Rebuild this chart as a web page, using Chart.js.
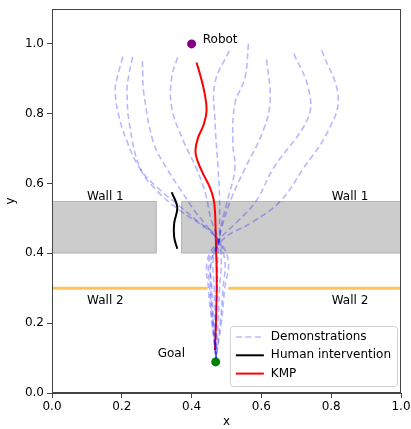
<!DOCTYPE html>
<html>
<head>
<meta charset="utf-8">
<script src="https://cdn.jsdelivr.net/npm/chart.js@4.4.1/dist/chart.umd.min.js"></script>
<style>
  html, body { margin: 0; padding: 0; background: #fff; }
  #wrap { width: 411px; height: 429px; }
</style>
</head>
<body>
<div id="wrap"><canvas id="robotChart"></canvas></div>
<script>
// Tick labels
const xTicks = [0, 0.2, 0.4, 0.6, 0.8, 1.0];
const yTicks = [0, 0.2, 0.4, 0.6, 0.8, 1.0];

// Demonstration trajectories (one x list and one y list per demo)
const demoX = [
    [0.203, 0.186, 0.181, 0.190, 0.214, 0.252, 0.300, 0.360, 0.420, 0.470, 0.495, 0.490, 0.482, 0.470],
    [0.231, 0.220, 0.215, 0.222, 0.253, 0.300, 0.370, 0.430, 0.475, 0.505, 0.495, 0.485, 0.470],
    [0.259, 0.260, 0.262, 0.290, 0.329, 0.370, 0.410, 0.450, 0.478, 0.485, 0.480, 0.476, 0.470],
    [0.360, 0.343, 0.343, 0.376, 0.414, 0.440, 0.455, 0.475, 0.475, 0.473, 0.471, 0.470],
    [0.508, 0.467, 0.467, 0.476, 0.480, 0.480, 0.478, 0.455, 0.458, 0.463, 0.470],
    [0.563, 0.553, 0.524, 0.518, 0.524, 0.505, 0.485, 0.478, 0.462, 0.465, 0.467, 0.470],
    [0.615, 0.625, 0.605, 0.553, 0.515, 0.485, 0.475, 0.450, 0.452, 0.460, 0.470],
    [0.693, 0.734, 0.734, 0.634, 0.585, 0.530, 0.480, 0.445, 0.448, 0.458, 0.470],
    [0.773, 0.820, 0.787, 0.720, 0.655, 0.575, 0.490, 0.458, 0.455, 0.462, 0.470]
];
const demoY = [
    [0.963, 0.900, 0.866, 0.800, 0.723, 0.643, 0.590, 0.540, 0.490, 0.450, 0.380, 0.300, 0.200, 0.100],
    [0.963, 0.910, 0.866, 0.770, 0.643, 0.580, 0.520, 0.480, 0.440, 0.380, 0.300, 0.200, 0.100],
    [0.951, 0.910, 0.866, 0.720, 0.643, 0.580, 0.520, 0.470, 0.430, 0.380, 0.300, 0.200, 0.100],
    [0.961, 0.904, 0.818, 0.723, 0.643, 0.570, 0.500, 0.440, 0.380, 0.300, 0.200, 0.100],
    [0.980, 0.889, 0.780, 0.643, 0.560, 0.480, 0.430, 0.380, 0.300, 0.200, 0.100],
    [1.000, 0.904, 0.828, 0.720, 0.643, 0.560, 0.480, 0.430, 0.380, 0.300, 0.200, 0.100],
    [0.956, 0.837, 0.751, 0.643, 0.560, 0.470, 0.430, 0.380, 0.300, 0.200, 0.100],
    [0.972, 0.875, 0.789, 0.643, 0.550, 0.490, 0.440, 0.380, 0.300, 0.200, 0.100],
    [0.982, 0.846, 0.743, 0.643, 0.550, 0.490, 0.440, 0.380, 0.300, 0.200, 0.100]
];

// KMP trajectory
const kmpX = [0.414, 0.425, 0.437, 0.443, 0.435, 0.418, 0.411, 0.417, 0.432, 0.452, 0.463, 0.467, 0.469, 0.470, 0.472, 0.470, 0.467];
const kmpY = [0.947, 0.910, 0.860, 0.809, 0.770, 0.730, 0.694, 0.665, 0.630, 0.590, 0.555, 0.520, 0.460, 0.418, 0.323, 0.209, 0.123];

// Human intervention
const humanX = [0.343, 0.359, 0.350, 0.350, 0.359];
const humanY = [0.575, 0.532, 0.486, 0.447, 0.413];

// Start / goal
const robotPos = [0.400, 1.000];
const goalPos = [0.469, 0.089];

// Walls
const wall1Spans = [[0, 0.30], [0.37, 1.0]];
const wall1Y = [0.40, 0.55];
const wall2Spans = [[0, 0.445], [0.505, 1.0]];
const wall2Y = 0.30;

const FONT = 'DejaVu Sans';
const zip = (xs, ys) => xs.map((x, i) => ({ x: x, y: ys[i] }));

const datasets = [];
demoX.forEach((xs, i) => {
    datasets.push({
        label: i === 0 ? 'Demonstrations' : '',
        data: zip(xs, demoY[i]),
        showLine: true,
        borderColor: 'rgba(0, 0, 255, 0.28)',
        borderWidth: 1.6,
        borderDash: [6, 3.5],
        pointRadius: 0,
        tension: 0.4
    });
});
datasets.push({
    label: 'Human intervention',
    data: zip(humanX, humanY),
    showLine: true,
    borderColor: '#000',
    borderWidth: 2,
    pointRadius: 0,
    tension: 0.4
});
datasets.push({
    label: 'KMP',
    data: zip(kmpX, kmpY),
    showLine: true,
    borderColor: '#ff0000',
    borderWidth: 2,
    pointRadius: 0,
    tension: 0.4
});
datasets.push({
    label: '',
    data: [{ x: robotPos[0], y: robotPos[1] }],
    pointRadius: 4.5,
    backgroundColor: '#800080',
    borderWidth: 0
});
datasets.push({
    label: '',
    data: [{ x: goalPos[0], y: goalPos[1] }],
    pointRadius: 4.5,
    backgroundColor: '#008000',
    borderWidth: 0
});

// walls behind the lines
const wallPlugin = {
    id: 'walls',
    beforeDatasetsDraw(chart) {
        const { ctx, scales: { x, y } } = chart;
        ctx.save();
        ctx.fillStyle = '#cccccc';
        ctx.strokeStyle = '#b5b5b5';
        ctx.lineWidth = 1;
        wall1Spans.forEach(([a, b]) => {
            const x0 = x.getPixelForValue(a), x1 = x.getPixelForValue(b);
            const y0 = y.getPixelForValue(wall1Y[1]), y1 = y.getPixelForValue(wall1Y[0]);
            ctx.fillRect(x0, y0, x1 - x0, y1 - y0);
            ctx.strokeRect(x0 + 0.5, y0 + 0.5, x1 - x0 - 1, y1 - y0 - 1);
        });
        ctx.strokeStyle = 'rgba(255, 165, 0, 0.65)';
        ctx.lineWidth = 3;
        wall2Spans.forEach(([a, b]) => {
            ctx.beginPath();
            ctx.moveTo(x.getPixelForValue(a), y.getPixelForValue(wall2Y));
            ctx.lineTo(x.getPixelForValue(b), y.getPixelForValue(wall2Y));
            ctx.stroke();
        });
        ctx.restore();
    }
};

// text annotations
const notes = [
    { text: 'Wall 1', x: 0.153, y: 0.561, align: 'center' },
    { text: 'Wall 1', x: 0.854, y: 0.561, align: 'center' },
    { text: 'Wall 2', x: 0.153, y: 0.263, align: 'center' },
    { text: 'Wall 2', x: 0.854, y: 0.263, align: 'center' },
    { text: 'Goal', x: 0.342, y: 0.111, align: 'center' },
    { text: 'Robot', x: 0.432, y: 1.011, align: 'left' }
];
const notePlugin = {
    id: 'notes',
    afterDatasetsDraw(chart) {
        const { ctx, scales: { x, y } } = chart;
        ctx.save();
        ctx.font = '12px "' + FONT + '"';
        ctx.fillStyle = '#000';
        ctx.textBaseline = 'middle';
        notes.forEach(n => {
            ctx.textAlign = n.align;
            ctx.fillText(n.text, x.getPixelForValue(n.x), y.getPixelForValue(n.y));
        });
        ctx.restore();
    }
};

// frame + legend in lower right
const legendPlugin = {
    id: 'boxLegend',
    afterDraw(chart) {
        const { ctx, chartArea: area } = chart;
        ctx.save();
        ctx.strokeStyle = '#444';
        ctx.lineWidth = 1;
        ctx.strokeRect(area.left + 0.5, area.top + 0.5, area.right - area.left - 1, area.bottom - area.top - 1);

        const items = [
            { label: 'Demonstrations', color: 'rgba(0, 0, 255, 0.28)', dash: [6, 3.5], width: 1.6 },
            { label: 'Human intervention', color: '#000', dash: [], width: 2 },
            { label: 'KMP', color: '#ff0000', dash: [], width: 2 }
        ];
        ctx.font = '12px "' + FONT + '"';
        const w = Math.max(...items.map(it => ctx.measureText(it.label).width)) + 47;
        const h = 60;
        const bx = area.right - 4 - w, by = area.bottom - 7 - h;
        ctx.fillStyle = 'rgba(255, 255, 255, 0.8)';
        ctx.strokeStyle = '#d0d0d0';
        ctx.beginPath();
        ctx.roundRect(bx + 0.5, by + 0.5, w, h, 3);
        ctx.fill();
        ctx.stroke();
        items.forEach((it, i) => {
            const ry = by + 11 + i * 18.3;
            ctx.strokeStyle = it.color;
            ctx.lineWidth = it.width;
            ctx.setLineDash(it.dash);
            ctx.beginPath();
            ctx.moveTo(bx + 6, ry);
            ctx.lineTo(bx + 34, ry);
            ctx.stroke();
            ctx.setLineDash([]);
            ctx.fillStyle = '#000';
            ctx.textAlign = 'left';
            ctx.textBaseline = 'middle';
            ctx.fillText(it.label, bx + 41, ry);
        });
        ctx.restore();
    }
};

const ctx = document.getElementById('robotChart').getContext('2d');
const robotChart = new Chart(ctx, {
    type: 'scatter',
    data: { datasets: datasets },
    options: {
        responsive: true,
        maintainAspectRatio: false,
        animation: false,
        layout: { padding: { top: 9, right: 10, left: 0, bottom: 0 } },
        plugins: {
            legend: { display: false },
            tooltip: { enabled: false }
        },
        scales: {
            x: {
                type: 'linear',
                min: 0,
                max: 1,
                afterBuildTicks: s => { s.ticks = xTicks.map(v => ({ value: v })); },
                afterFit: s => { s.height = 36; s.paddingLeft = 0; s.paddingRight = 0; },
                grid: { drawOnChartArea: false, drawTicks: true, tickLength: 5, color: '#444' },
                border: { display: true, color: '#444' },
                ticks: {
                    color: '#000',
                    padding: 2,
                    font: { family: FONT, size: 12 },
                    callback: v => v.toFixed(1)
                },
                title: {
                    display: true,
                    text: 'x',
                    color: '#000',
                    padding: { top: 0, bottom: 0 },
                    font: { family: FONT, size: 12 }
                }
            },
            y: {
                type: 'linear',
                min: 0,
                max: 1.1,
                afterBuildTicks: s => { s.ticks = yTicks.map(v => ({ value: v })); },
                afterFit: s => { s.width = 52; s.paddingTop = 0; s.paddingBottom = 0; },
                grid: { drawOnChartArea: false, drawTicks: true, tickLength: 5, color: '#444' },
                border: { display: true, color: '#444' },
                ticks: {
                    color: '#000',
                    padding: 3,
                    font: { family: FONT, size: 12 },
                    callback: v => v.toFixed(1)
                },
                title: {
                    display: true,
                    text: 'y',
                    color: '#000',
                    padding: { top: 4, bottom: 0 },
                    font: { family: FONT, size: 12 }
                }
            }
        }
    },
    plugins: [wallPlugin, notePlugin, legendPlugin]
});
</script>
</body>
</html>
